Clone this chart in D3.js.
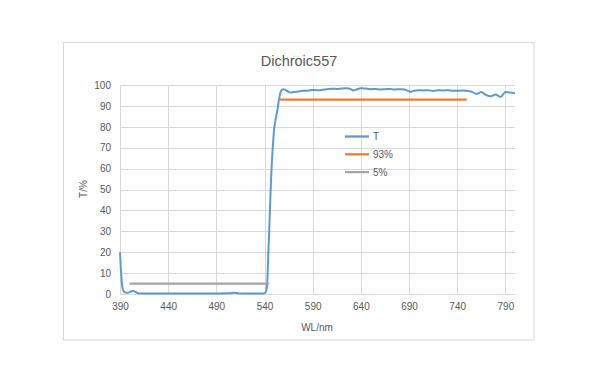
<!DOCTYPE html>
<html><head><meta charset="utf-8">
<script src="https://cdn.jsdelivr.net/npm/d3@7"></script>
<style>body{margin:0;background:#fff}svg{display:block}text{font-family:"Liberation Sans",Arial,sans-serif;fill:#595959}</style>
</head><body><svg id="c" width="600" height="383"></svg>
<script>
const title = "Dichroic557";
const wavelengths = [390,391,392,393,394,395,396,398,400,402,404,406,408,410,415,420,430,440,450,460,470,480,490,500,505,508,511,514,520,530,538,540,541,542,543,544,545,546,547,548,549,550,551,552,553,554,555,556,557,558,560,562,565,568,570,575,580,585,590,595,600,605,610,615,620,625,630,632,635,640,645,650,655,660,665,670,675,680,685,690,692,695,700,705,710,715,720,725,730,735,740,745,750,755,760,765,770,775,780,785,790,795,800];
const transmission = [20,11,5,2.2,1.2,0.8,0.7,0.6,0.9,1.3,1.4,1.0,0.5,0.3,0.2,0.2,0.2,0.2,0.2,0.2,0.2,0.2,0.2,0.3,0.4,0.6,0.5,0.3,0.2,0.2,0.2,0.3,0.8,2,7,20,32,45,57,66,73,79,82,85,87,90,93,95.5,97,97.7,98,97.6,96.7,96.4,96.6,96.9,97.2,97.3,97.6,97.5,97.7,98,98.2,98.1,98.3,98.4,97.9,97.4,97.8,98.5,98.3,98.0,98.1,97.9,98.0,98.1,97.9,98.0,97.8,97.0,96.7,97.3,97.5,97.4,97.5,97.1,97.5,97.4,97.5,97.3,97.2,97.4,97.3,96.8,95.7,96.6,95.2,94.6,95.4,94.3,96.6,96.4,96.0];
const line93 = {name:"93%", x:[556,750], y:93};
const line5 = {name:"5%", x:[400,545], y:5};
const seriesNames = ["T","93%","5%"];
const seriesColors = ["#5b9bd5","#ed7d31","#a5a5a5"];
const xTicks = [390,440,490,540,590,640,690,740,790];
const yTicks = [0,10,20,30,40,50,60,70,80,90,100];
const xTitle = "WL/nm", yTitle = "T/%";

const svg = d3.select("#c");
svg.append("rect").attr("x",63.5).attr("y",42.5).attr("width",470.5).attr("height",297.5)
  .attr("fill","#fff").attr("stroke","#d9d9d9");

const x = d3.scaleLinear().domain([390,800]).range([120,515]);
const y = d3.scaleLinear().domain([0,100]).range([294,85]);

const g = svg.append("g");
g.selectAll(".hg").data(yTicks).join("line")
  .attr("x1",x(390)).attr("x2",x(800)).attr("y1",d=>Math.round(y(d))+0.5).attr("y2",d=>Math.round(y(d))+0.5)
  .attr("stroke","#d9d9d9").attr("stroke-width",1);
g.selectAll(".vg").data(xTicks).join("line")
  .attr("x1",d=>Math.round(x(d))+0.5).attr("x2",d=>Math.round(x(d))+0.5).attr("y1",y(100)).attr("y2",y(0))
  .attr("stroke","#d9d9d9").attr("stroke-width",1);

// axes tick labels via d3 axes
const xa = d3.axisBottom(x).tickValues(xTicks).tickSize(0).tickPadding(9);
const ya = d3.axisLeft(y).tickValues(yTicks).tickSize(0).tickPadding(9);
const gx = svg.append("g").attr("transform",`translate(0,${y(0)})`).call(xa);
const gy = svg.append("g").attr("transform",`translate(${x(390)},0)`).call(ya);
[gx,gy].forEach(a=>{a.select(".domain").remove(); a.selectAll("text").attr("font-size",10).style("fill","#595959").attr("font-family","Liberation Sans, Arial, sans-serif");});

const data = wavelengths.map((w,i)=>[w,transmission[i]]);
svg.append("path").datum(data)
  .attr("d",d3.line().x(d=>x(d[0])).y(d=>y(d[1])).curve(d3.curveMonotoneX))
  .attr("fill","none").attr("stroke",seriesColors[0]).attr("stroke-width",2);
[line93,line5].forEach((l,i)=>{
  svg.append("line").attr("x1",x(l.x[0])).attr("x2",x(l.x[1])).attr("y1",y(l.y)).attr("y2",y(l.y))
    .attr("stroke",seriesColors[i+1]).attr("stroke-width",2.25);
});

// legend
seriesNames.forEach((n,i)=>{
  const ly = 136.5 + i*17.8;
  svg.append("line").attr("x1",345).attr("x2",369).attr("y1",ly).attr("y2",ly)
    .attr("stroke",seriesColors[i]).attr("stroke-width",2.25);
  svg.append("text").attr("x",373).attr("y",ly+3.5).attr("font-size",10).text(n);
});

svg.append("text").attr("x",299).attr("y",65.5).attr("text-anchor","middle").attr("font-size",14.5).text(title);
svg.append("text").attr("x",317).attr("y",331).attr("text-anchor","middle").attr("font-size",10).text(xTitle);
svg.append("text").attr("transform","translate(87,189) rotate(-90)").attr("text-anchor","middle").attr("font-size",10).text(yTitle);
</script></body></html>
